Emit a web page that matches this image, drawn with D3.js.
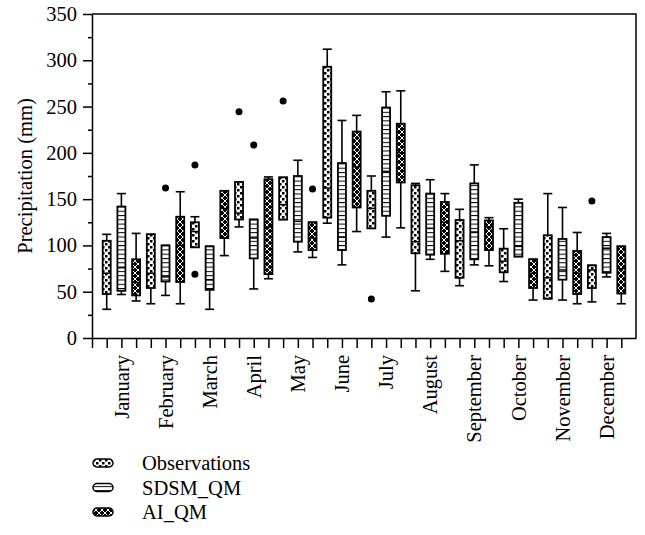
<!DOCTYPE html>
<html><head><meta charset="utf-8">
<script src="https://cdn.jsdelivr.net/npm/d3@7"></script>
<style>
body{margin:0;background:#fff}
text{font-family:"Liberation Serif","Times New Roman",serif;fill:#000}
</style>
</head><body><svg id="c" width="645" height="535"></svg>
<script>
const months = ["January","February","March","April","May","June","July","August","September","October","November","December"];
const seriesNames = ["Observations","SDSM_QM","AI_QM"];
const yTicks = [0,50,100,150,200,250,300,350];
// [whisker low, Q1, median, Q3, whisker high]
const obsStats = [
  [31,47.5,70,105,112],[37,54,70,112,112],[98,98,115,125,131],[120,128,135,168.5,168.5],
  [128,128,144,173.5,173.5],[124,130,162,293,312],[118.5,118.5,140,159,175],[51,91.5,104,165,167],
  [56.5,65,105,127.5,139],[61,71,83,96.5,118],[42.5,42.5,65,111,156],[39,54,73.5,78.5,78.5]
];
const sdsmStats = [
  [47,51,76,142,156],[46,61,66,100,100],[31,52,63,99,99],[53,86,108,128,128],
  [93,104,126,175,192],[79,95,109,189,235],[109,132,180,249,266],[85,90,118.5,156,171],
  [79,85,114.5,167,187],[88,88,99,146,150],[41,63,73.5,107,141],[66,70.5,97,109,113]
];
const aiStats = [
  [40,46,60,85,113],[37,60.5,100,131,158],[89,108,140,159,159],[64,69,120,171.5,174],
  [87,95,108,125,125],[115,141,185,223,240.5],[119,168,200,231.5,267],[72,91,125,147,156],
  [78,95,120,127,130],[41,54,70,85,85],[37,47.5,70,94,114],[37,48,75,99,99]
];
const obsOutliers = [[],[],[187,69],[244.5],[256],[],[42],[],[],[],[],[148]];
const sdsmOutliers = [[],[162],[],[208.5],[],[],[],[],[],[],[],[]];
const aiOutliers = [[],[],[],[],[161],[],[],[],[],[],[],[]];

const svg = d3.select("#c");
const L = 92, R = 636, T = 14, B = 338;
const x = d3.scaleLinear().domain([0,37]).range([L,R]);
const y = d3.scaleLinear().domain([0,350]).range([B,T]);

// patterns
const defs = svg.append("defs");
const pObs = defs.append("pattern").attr("id","pObs").attr("patternUnits","userSpaceOnUse").attr("width",6).attr("height",6);
pObs.append("rect").attr("width",6).attr("height",6).attr("fill","#fff");
pObs.append("rect").attr("x",0).attr("y",0).attr("width",2.5).attr("height",2.5).attr("fill","#000");
pObs.append("rect").attr("x",3).attr("y",3).attr("width",2.5).attr("height",2.5).attr("fill","#000");
const pS = defs.append("pattern").attr("id","pSdsm").attr("patternUnits","userSpaceOnUse").attr("width",4).attr("height",4.3);
pS.append("rect").attr("width",4).attr("height",4.3).attr("fill","#fff");
pS.append("rect").attr("y",0).attr("width",4).attr("height",1).attr("fill","#000");
const pA = defs.append("pattern").attr("id","pAi").attr("patternUnits","userSpaceOnUse").attr("width",6).attr("height",6);
pA.append("rect").attr("width",6).attr("height",6).attr("fill","#000");
pA.append("path").attr("d","M0,0L6,6M6,0L0,6").attr("stroke","#fff").attr("stroke-width",1);
const fills = ["url(#pObs)","url(#pSdsm)","url(#pAi)"];

// axes
const yAx = svg.append("g").attr("transform",`translate(${L},0)`)
  .call(d3.axisLeft(y).tickValues(yTicks).tickSize(9).tickPadding(6).tickSizeOuter(0));
svg.append("g").attr("transform",`translate(${L},0)`)
  .call(d3.axisLeft(y).tickValues(d3.range(25,350,50)).tickSize(4).tickFormat("").tickSizeOuter(0))
  .select(".domain").remove();
yAx.selectAll("text").style("font-size","20.5px").attr("font-family","Liberation Serif").attr("fill","#000");
svg.append("g").attr("transform",`translate(0,${B})`)
  .call(d3.axisBottom(x).tickValues(d3.range(0,37)).tickSize(10).tickFormat("").tickSizeOuter(0));
svg.selectAll(".domain,.tick line").attr("stroke","#000").attr("stroke-width",1.5);
// frame
svg.append("path").attr("d",`M${L},${T}H${R}V${B}`).attr("fill","none").attr("stroke","#000").attr("stroke-width",1.5);

// month labels
months.forEach((m,i)=>{
  svg.append("text").attr("transform",`translate(${x(i*3+2)},355) rotate(-90)`)
    .attr("text-anchor","end").attr("dy","0.35em").style("font-size","20.5px").text(m);
});
// y label
svg.append("text").attr("transform",`translate(25,${(T+B)/2}) rotate(-90)`)
  .attr("text-anchor","middle").attr("dy","0.35em").style("font-size","20.5px").text("Precipitation (mm)");

// boxes
const allStats = [obsStats, sdsmStats, aiStats];
const allOut = [obsOutliers, sdsmOutliers, aiOutliers];
const g = svg.append("g");
months.forEach((m,mi)=>{
  for(let s=0;s<3;s++){
    const [wl,q1,md,q3,wh] = allStats[s][mi];
    const cx = x(mi*3+s+1);
    const bw = 8, cw = 9, sw = 1.8;
    g.append("line").attr("x1",cx).attr("x2",cx).attr("y1",y(wl)).attr("y2",y(wh)).attr("stroke","#000").attr("stroke-width",1.6);
    g.append("line").attr("x1",cx-cw/2).attr("x2",cx+cw/2).attr("y1",y(wl)).attr("y2",y(wl)).attr("stroke","#000").attr("stroke-width",1.6);
    g.append("line").attr("x1",cx-cw/2).attr("x2",cx+cw/2).attr("y1",y(wh)).attr("y2",y(wh)).attr("stroke","#000").attr("stroke-width",1.6);
    g.append("rect").attr("x",cx-bw/2).attr("width",bw).attr("y",y(q3)).attr("height",y(q1)-y(q3))
      .attr("fill",fills[s]).attr("stroke","#000").attr("stroke-width",sw);
    g.append("line").attr("x1",cx-bw/2).attr("x2",cx+bw/2).attr("y1",y(md)).attr("y2",y(md)).attr("stroke","#000").attr("stroke-width",1.5);
    allOut[s][mi].forEach(v=>{
      g.append("circle").attr("cx",cx).attr("cy",y(v)).attr("r",3.5).attr("fill","#000");
    });
  }
});

// legend
const legY = [463, 487.5, 512];
seriesNames.forEach((n,i)=>{
  svg.append("rect").attr("x",93).attr("y",legY[i]-4).attr("width",20).attr("height",8).attr("rx",4)
    .attr("fill",fills[i]).attr("stroke","#000").attr("stroke-width",1.5);
  svg.append("text").attr("x",142).attr("y",legY[i]).attr("dy","0.35em").style("font-size","20.5px").text(n);
});
</script>
</body></html>
